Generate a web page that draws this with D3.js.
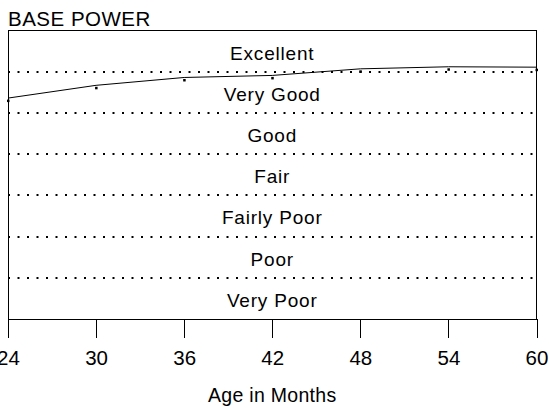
<!DOCTYPE html>
<html>
<head>
<meta charset="utf-8">
<script src="https://cdn.jsdelivr.net/npm/d3@7"></script>
<style>
  html, body { margin: 0; padding: 0; background: #fff; }
  svg { display: block; }
  text { font-family: "Liberation Sans", Arial, sans-serif; fill: #000; }
</style>
</head>
<body>
<script>
// ---- data ----
const title = "BASE POWER";
const xTitle = "Age in Months";
const ages = [24, 30, 36, 42, 48, 54, 60];
const scores = [5.36, 5.67, 5.86, 5.91, 6.07, 6.12, 6.11];
const xTicks = [24, 30, 36, 42, 48, 54, 60];
const bandLabels = ["Very Poor", "Poor", "Fairly Poor", "Fair", "Good", "Very Good", "Excellent"];

// ---- layout ----
const W = 549, H = 408;
const m = { left: 8, right: 12.5, top: 30.5, bottom: 89 };

const svg = d3.select("body").append("svg").attr("width", W).attr("height", H);

const x = d3.scaleLinear().domain([24, 60]).range([m.left, W - m.right]);
const y = d3.scaleLinear().domain([0, bandLabels.length]).range([H - m.bottom, m.top]);

// title
svg.append("text").attr("x", 8).attr("y", 26)
  .style("font-size", "20.5px").style("letter-spacing", "0.5px").text(title);

// band separators (dotted)
const seps = d3.range(1, bandLabels.length);
svg.append("g").selectAll("line").data(seps).join("line")
  .attr("x1", x(24)).attr("x2", x(60))
  .attr("y1", d => Math.round(y(d)) ).attr("y2", d => Math.round(y(d)))
  .attr("stroke", "#000").attr("stroke-width", 2)
  .attr("stroke-dasharray", "2,7.5").attr("stroke-dashoffset", -9.5);

// band labels
svg.append("g").selectAll("text").data(bandLabels).join("text")
  .attr("x", (x(24) + x(60)) / 2)
  .attr("y", (d, i) => y(i + 0.5) + 8.5)
  .attr("text-anchor", "middle")
  .style("font-size", "19px")
  .style("letter-spacing", "0.8px")
  .text(d => d);

// frame
svg.append("rect")
  .attr("x", x(24)).attr("y", y(bandLabels.length))
  .attr("width", x(60) - x(24)).attr("height", y(0) - y(bandLabels.length))
  .attr("fill", "none").attr("stroke", "#000").attr("stroke-width", 1)
  .attr("shape-rendering", "crispEdges");

// x axis
const xAxis = d3.axisBottom(x).tickValues(xTicks).tickSize(19).tickPadding(12).tickFormat(d3.format("d"));
const gx = svg.append("g").attr("transform", `translate(0,${y(0)})`).call(xAxis);
gx.select(".domain").remove();
gx.selectAll(".tick line").attr("stroke", "#000").attr("shape-rendering", "crispEdges");
gx.selectAll(".tick text").style("font-size", "20.5px")
  .style("font-family", "'Liberation Sans', Arial, sans-serif").attr("fill", "#000");

// x title
svg.append("text").attr("x", (x(24) + x(60)) / 2).attr("y", 402)
  .attr("text-anchor", "middle").style("font-size", "19.5px").style("letter-spacing", "0.3px").text(xTitle);

// line
const pts = ages.map((a, i) => [a, scores[i]]);
svg.append("path").datum(pts)
  .attr("d", d3.line().x(d => x(d[0])).y(d => y(d[1])))
  .attr("fill", "none").attr("stroke", "#000").attr("stroke-width", 1);

// small markers
svg.append("g").selectAll("rect").data(pts).join("rect")
  .attr("x", d => x(d[0]) - 1).attr("y", d => y(d[1]) + 1.5)
  .attr("width", 2.5).attr("height", 2.5).attr("fill", "#000");
</script>
</body>
</html>
